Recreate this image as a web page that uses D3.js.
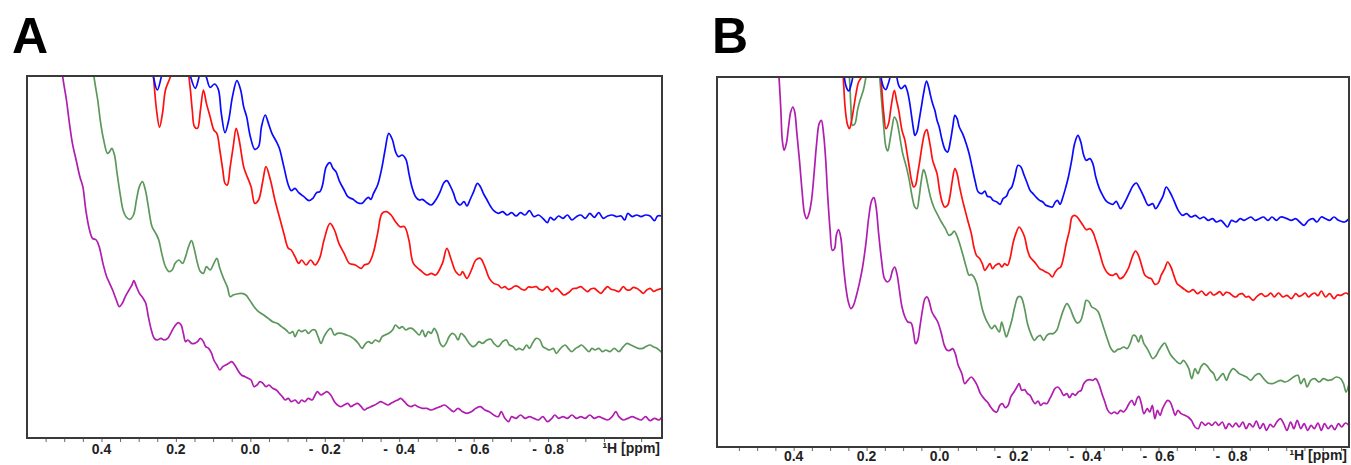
<!DOCTYPE html>
<html><head><meta charset="utf-8">
<script src="https://cdn.jsdelivr.net/npm/d3@7"></script>
<style>body{margin:0;background:#fff;} svg{display:block;}</style>
</head><body>
<svg id="chart" width="1351" height="465"></svg>
<script>
// x: chemical shift (ppm), y: relative intensity (a.u.)
const tickLabels = [0.4, 0.2, 0.0, -0.2, -0.4, -0.6, -0.8];
const axisTitle = "\u00B9H [ppm]";
const panelNames = ["A", "B"];

const aBlue = [[0.270,116.4],[0.260,108.2],[0.250,104.4],[0.240,107.9],[0.230,113.4],[0.198,119.4],[0.168,113.4],[0.160,108.2],[0.148,104.9],[0.138,108.2],[0.130,111.4],[0.118,108.2],[0.108,105.2],[0.096,106.2],[0.086,104.6],[0.078,97.4],[0.068,91.6],[0.058,95.4],[0.048,102.4],[0.036,107.2],[0.026,104.4],[0.018,99.4],[0.010,96.4],[0.000,90.4],[-0.012,86.6],[-0.022,87.4],[-0.030,93.4],[-0.040,96.9],[-0.048,94.6],[-0.058,91.4],[-0.070,88.9],[-0.078,86.9],[-0.090,81.4],[-0.102,75.9],[-0.110,74.2],[-0.120,74.9],[-0.130,73.6],[-0.144,72.4],[-0.158,71.2],[-0.168,71.9],[-0.178,73.6],[-0.187,73.9],[-0.194,75.9],[-0.204,81.4],[-0.214,82.6],[-0.222,80.9],[-0.230,79.9],[-0.240,76.9],[-0.252,74.4],[-0.262,72.4],[-0.276,71.6],[-0.288,70.6],[-0.300,70.4],[-0.310,71.6],[-0.317,72.2],[-0.324,71.6],[-0.331,73.4],[-0.342,75.9],[-0.354,81.4],[-0.362,86.4],[-0.372,91.4],[-0.382,89.4],[-0.390,85.9],[-0.398,84.4],[-0.408,84.9],[-0.418,83.6],[-0.426,79.4],[-0.434,75.4],[-0.444,72.4],[-0.454,71.4],[-0.462,71.6],[-0.474,70.6],[-0.486,69.9],[-0.498,71.4],[-0.510,73.9],[-0.520,76.6],[-0.528,77.2],[-0.538,75.4],[-0.546,73.4],[-0.554,70.9],[-0.564,69.9],[-0.574,70.9],[-0.582,69.6],[-0.590,71.4],[-0.600,73.9],[-0.610,76.4],[-0.618,75.4],[-0.626,73.4],[-0.636,71.4],[-0.646,69.4],[-0.654,68.2],[-0.666,67.4],[-0.678,67.9],[-0.690,66.9],[-0.702,67.6],[-0.714,66.6],[-0.726,67.6],[-0.738,66.9],[-0.750,68.2],[-0.762,66.4],[-0.774,66.9],[-0.786,65.9],[-0.798,64.6],[-0.806,66.2],[-0.816,65.4],[-0.828,66.6],[-0.840,65.9],[-0.852,66.9],[-0.864,65.4],[-0.876,66.4],[-0.888,66.9],[-0.900,65.9],[-0.912,67.4],[-0.924,66.2],[-0.936,67.6],[-0.948,65.9],[-0.960,66.6],[-0.972,66.9],[-0.984,66.4],[-0.996,66.6],[-1.006,65.4],[-1.014,67.4],[-1.026,66.4],[-1.038,66.9],[-1.050,66.4],[-1.062,66.9],[-1.074,66.6],[-1.086,65.2],[-1.094,66.6],[-1.106,66.6]];

const aRed = [[0.266,116.4],[0.260,108.2],[0.252,98.4],[0.244,93.2],[0.236,97.4],[0.228,104.4],[0.218,107.4],[0.210,109.9],[0.192,116.4],[0.170,111.4],[0.162,105.4],[0.156,98.4],[0.150,93.4],[0.142,92.9],[0.134,98.4],[0.126,104.4],[0.118,100.4],[0.108,96.4],[0.098,92.4],[0.090,91.4],[0.082,86.4],[0.074,80.4],[0.068,76.4],[0.062,75.9],[0.054,81.4],[0.046,87.4],[0.038,92.9],[0.030,89.4],[0.018,81.4],[0.012,79.4],[-0.002,75.4],[-0.012,70.4],[-0.022,71.4],[-0.034,77.4],[-0.042,81.4],[-0.054,77.4],[-0.066,71.4],[-0.078,66.4],[-0.090,61.4],[-0.102,56.9],[-0.110,56.4],[-0.120,54.4],[-0.130,52.4],[-0.138,53.4],[-0.150,51.9],[-0.162,53.4],[-0.174,51.9],[-0.186,53.9],[-0.198,59.4],[-0.214,64.4],[-0.226,62.4],[-0.238,58.4],[-0.252,55.4],[-0.266,52.4],[-0.282,51.9],[-0.298,50.9],[-0.306,51.9],[-0.318,52.4],[-0.330,55.4],[-0.342,61.4],[-0.354,67.4],[-0.366,67.9],[-0.378,66.9],[-0.390,64.9],[-0.402,63.4],[-0.414,63.4],[-0.426,59.4],[-0.438,52.4],[-0.456,50.4],[-0.474,48.9],[-0.486,49.4],[-0.498,48.9],[-0.516,52.4],[-0.528,56.9],[-0.540,53.4],[-0.552,49.9],[-0.564,48.9],[-0.570,49.9],[-0.582,47.9],[-0.594,50.4],[-0.606,53.4],[-0.618,53.9],[-0.630,51.4],[-0.642,47.9],[-0.654,46.4],[-0.666,45.9],[-0.675,45.0],[-0.684,45.4],[-0.693,44.6],[-0.702,44.9],[-0.711,45.6],[-0.720,45.4],[-0.729,44.6],[-0.738,44.4],[-0.747,45.3],[-0.756,45.2],[-0.768,45.4],[-0.777,44.6],[-0.786,44.4],[-0.798,45.4],[-0.810,43.9],[-0.822,44.9],[-0.832,44.0],[-0.842,42.9],[-0.858,43.9],[-0.866,44.8],[-0.876,44.9],[-0.888,45.4],[-0.897,44.6],[-0.906,43.9],[-0.915,44.7],[-0.924,44.9],[-0.933,44.1],[-0.942,43.4],[-0.951,44.5],[-0.960,45.4],[-0.969,44.6],[-0.978,44.4],[-0.990,43.9],[-1.002,45.4],[-1.011,44.5],[-1.020,44.4],[-1.029,45.2],[-1.038,44.9],[-1.047,44.2],[-1.056,43.4],[-1.065,44.4],[-1.074,44.9],[-1.083,44.0],[-1.092,44.4],[-1.106,44.9]];

const aGreen = [[0.426,116.4],[0.420,108.4],[0.410,101.4],[0.402,94.4],[0.394,89.4],[0.384,85.4],[0.378,85.9],[0.372,86.9],[0.365,84.9],[0.358,79.4],[0.350,73.4],[0.342,68.4],[0.334,66.4],[0.324,65.6],[0.314,66.9],[0.306,71.4],[0.298,75.4],[0.290,76.9],[0.282,74.4],[0.274,69.4],[0.264,63.4],[0.254,61.4],[0.246,59.4],[0.238,55.4],[0.228,51.4],[0.218,49.9],[0.210,50.4],[0.202,52.4],[0.192,53.4],[0.182,52.4],[0.174,54.4],[0.166,57.4],[0.158,59.2],[0.150,56.4],[0.142,52.4],[0.134,49.9],[0.126,49.4],[0.118,51.4],[0.108,50.4],[0.098,52.4],[0.090,53.9],[0.082,50.9],[0.072,47.9],[0.062,45.4],[0.054,42.4],[0.046,42.9],[0.036,43.2],[0.024,43.4],[0.012,42.9],[0.002,41.4],[-0.010,39.4],[-0.022,37.9],[-0.036,36.9],[-0.048,35.9],[-0.060,34.9],[-0.072,34.4],[-0.084,33.4],[-0.096,32.4],[-0.106,31.4],[-0.114,31.9],[-0.120,30.4],[-0.130,32.4],[-0.138,31.9],[-0.148,32.4],[-0.156,31.4],[-0.166,32.4],[-0.174,32.4],[-0.182,30.4],[-0.190,28.4],[-0.198,30.4],[-0.206,31.9],[-0.216,32.9],[-0.226,30.9],[-0.234,31.4],[-0.246,31.4],[-0.258,30.9],[-0.270,30.4],[-0.282,29.4],[-0.290,28.4],[-0.300,26.9],[-0.310,28.4],[-0.318,28.9],[-0.326,28.4],[-0.336,29.4],[-0.346,28.9],[-0.354,30.4],[-0.362,30.9],[-0.372,31.4],[-0.382,32.4],[-0.390,33.9],[-0.400,32.9],[-0.408,33.4],[-0.418,32.4],[-0.426,32.9],[-0.434,32.9],[-0.444,31.9],[-0.454,30.9],[-0.462,32.4],[-0.470,30.4],[-0.478,31.9],[-0.486,31.4],[-0.494,32.9],[-0.502,31.4],[-0.510,28.4],[-0.518,27.4],[-0.526,28.4],[-0.534,30.4],[-0.542,31.4],[-0.550,30.9],[-0.558,29.4],[-0.566,31.4],[-0.576,30.4],[-0.582,29.4],[-0.588,28.4],[-0.598,27.4],[-0.606,27.9],[-0.614,28.9],[-0.624,28.4],[-0.636,29.4],[-0.646,29.6],[-0.654,28.4],[-0.666,27.4],[-0.678,28.9],[-0.688,29.4],[-0.696,27.9],[-0.706,27.4],[-0.714,26.4],[-0.722,26.9],[-0.732,26.4],[-0.742,27.9],[-0.750,26.9],[-0.758,28.4],[-0.768,29.9],[-0.778,29.4],[-0.786,27.4],[-0.794,26.9],[-0.804,26.4],[-0.814,26.9],[-0.822,25.4],[-0.830,26.4],[-0.838,27.4],[-0.846,27.9],[-0.854,26.9],[-0.864,25.9],[-0.874,26.9],[-0.882,27.4],[-0.890,27.9],[-0.900,26.9],[-0.910,25.9],[-0.918,26.9],[-0.926,26.4],[-0.936,26.9],[-0.946,25.9],[-0.955,26.4],[-0.966,25.9],[-0.978,26.9],[-0.990,25.9],[-1.002,27.4],[-1.012,28.4],[-1.022,27.9],[-1.032,27.4],[-1.042,26.9],[-1.054,26.9],[-1.062,27.4],[-1.074,27.9],[-1.082,27.4],[-1.092,26.9],[-1.106,25.6]];

const aMagenta = [[0.510,116.4],[0.504,108.4],[0.494,101.4],[0.486,94.4],[0.478,88.4],[0.468,83.4],[0.458,78.4],[0.450,75.4],[0.442,68.4],[0.432,62.4],[0.424,59.9],[0.414,59.4],[0.406,57.4],[0.396,52.4],[0.386,48.4],[0.378,46.4],[0.370,44.4],[0.360,41.4],[0.352,39.4],[0.344,40.4],[0.336,42.4],[0.326,44.4],[0.318,45.9],[0.313,47.2],[0.306,45.4],[0.298,43.4],[0.288,41.9],[0.281,40.4],[0.274,36.4],[0.266,32.4],[0.258,29.9],[0.250,29.4],[0.240,29.9],[0.232,29.4],[0.222,29.9],[0.214,31.4],[0.204,33.4],[0.194,34.6],[0.186,33.9],[0.180,31.4],[0.174,28.9],[0.168,29.4],[0.158,28.4],[0.150,28.4],[0.142,28.9],[0.134,29.9],[0.126,28.9],[0.120,27.4],[0.112,26.9],[0.104,25.4],[0.098,23.4],[0.090,21.9],[0.082,20.4],[0.074,21.4],[0.066,21.9],[0.058,22.4],[0.050,22.9],[0.042,21.9],[0.034,20.4],[0.024,18.9],[0.014,18.4],[0.006,17.9],[-0.002,17.4],[-0.010,15.4],[-0.018,15.9],[-0.026,16.9],[-0.034,16.4],[-0.042,15.4],[-0.050,15.9],[-0.060,14.9],[-0.070,14.4],[-0.078,13.4],[-0.086,12.4],[-0.094,11.4],[-0.102,11.9],[-0.110,10.9],[-0.120,11.4],[-0.130,10.4],[-0.138,11.4],[-0.146,10.9],[-0.156,11.9],[-0.166,11.4],[-0.174,12.9],[-0.180,13.9],[-0.190,12.9],[-0.198,13.4],[-0.206,13.9],[-0.216,12.9],[-0.226,10.9],[-0.234,9.9],[-0.242,9.4],[-0.252,9.9],[-0.262,10.4],[-0.270,9.4],[-0.278,9.9],[-0.288,10.4],[-0.298,9.4],[-0.306,8.4],[-0.314,8.9],[-0.324,9.4],[-0.334,9.9],[-0.342,10.4],[-0.350,10.9],[-0.360,10.4],[-0.370,9.9],[-0.378,10.4],[-0.386,10.9],[-0.396,11.4],[-0.404,11.9],[-0.414,10.9],[-0.422,9.9],[-0.432,9.4],[-0.442,9.9],[-0.450,9.4],[-0.462,8.9],[-0.474,8.9],[-0.486,8.4],[-0.498,8.9],[-0.510,9.4],[-0.522,9.9],[-0.534,8.9],[-0.546,7.9],[-0.558,8.9],[-0.570,7.9],[-0.582,7.4],[-0.594,7.9],[-0.606,8.9],[-0.618,9.4],[-0.630,8.4],[-0.642,7.9],[-0.654,6.9],[-0.666,6.4],[-0.674,7.9],[-0.684,5.9],[-0.694,4.9],[-0.702,6.4],[-0.714,5.9],[-0.726,6.9],[-0.738,5.9],[-0.750,6.4],[-0.762,5.9],[-0.774,5.4],[-0.786,6.4],[-0.798,4.9],[-0.810,5.9],[-0.818,6.9],[-0.828,5.9],[-0.840,6.4],[-0.852,5.9],[-0.864,6.9],[-0.876,5.9],[-0.888,6.4],[-0.900,5.9],[-0.912,6.9],[-0.924,5.9],[-0.936,6.4],[-0.948,5.9],[-0.960,5.4],[-0.972,6.4],[-0.982,7.9],[-0.990,6.4],[-1.002,5.4],[-1.014,5.9],[-1.026,6.4],[-1.038,5.9],[-1.050,5.4],[-1.062,6.4],[-1.074,5.2],[-1.086,5.9],[-1.098,5.4],[-1.106,6.4]];

const bBlue = [[0.267,119.0],[0.261,110.8],[0.255,107.8],[0.249,106.8],[0.243,108.5],[0.238,110.8],[0.218,119.0],[0.165,114.0],[0.159,110.0],[0.153,107.8],[0.147,107.2],[0.142,108.5],[0.136,110.8],[0.126,116.0],[0.117,110.8],[0.112,108.5],[0.106,107.5],[0.101,107.8],[0.095,108.5],[0.089,107.0],[0.083,104.0],[0.077,99.5],[0.071,95.0],[0.068,93.5],[0.062,94.5],[0.056,98.0],[0.050,102.0],[0.044,106.0],[0.036,109.8],[0.030,108.0],[0.025,105.5],[0.019,103.0],[0.013,101.0],[0.007,98.0],[0.001,96.0],[-0.007,92.0],[-0.016,89.0],[-0.022,88.5],[-0.030,92.0],[-0.036,96.0],[-0.042,99.5],[-0.048,98.5],[-0.054,96.0],[-0.063,94.0],[-0.073,91.0],[-0.081,88.0],[-0.089,84.0],[-0.098,79.5],[-0.106,76.5],[-0.116,76.0],[-0.124,76.8],[-0.131,75.2],[-0.139,75.0],[-0.147,74.0],[-0.157,73.5],[-0.166,72.8],[-0.174,74.5],[-0.183,75.2],[-0.190,77.0],[-0.198,78.0],[-0.206,81.0],[-0.215,84.5],[-0.223,84.0],[-0.230,82.0],[-0.239,79.5],[-0.248,77.0],[-0.256,76.0],[-0.264,75.0],[-0.274,74.0],[-0.283,73.5],[-0.291,72.5],[-0.300,72.2],[-0.309,72.0],[-0.317,73.5],[-0.323,74.0],[-0.330,72.8],[-0.338,75.0],[-0.346,78.0],[-0.353,81.0],[-0.362,86.0],[-0.370,91.0],[-0.379,93.5],[-0.387,91.5],[-0.395,87.5],[-0.402,86.0],[-0.412,86.5],[-0.420,85.0],[-0.428,81.0],[-0.438,77.5],[-0.447,75.5],[-0.455,74.0],[-0.464,73.2],[-0.475,72.8],[-0.484,73.7],[-0.496,71.5],[-0.508,73.5],[-0.519,76.0],[-0.531,78.5],[-0.539,79.2],[-0.549,77.5],[-0.560,75.0],[-0.572,72.5],[-0.584,73.0],[-0.592,71.5],[-0.604,73.5],[-0.613,75.5],[-0.621,78.0],[-0.631,76.5],[-0.642,74.0],[-0.654,71.0],[-0.666,69.5],[-0.677,70.0],[-0.689,69.0],[-0.701,69.5],[-0.713,68.5],[-0.724,69.0],[-0.736,68.0],[-0.748,68.5],[-0.759,67.5],[-0.771,68.0],[-0.780,67.0],[-0.789,66.0],[-0.800,68.0],[-0.812,67.5],[-0.824,68.5],[-0.835,68.0],[-0.853,69.0],[-0.865,68.0],[-0.876,68.5],[-0.888,69.0],[-0.900,68.0],[-0.911,69.0],[-0.923,68.0],[-0.935,69.0],[-0.952,68.5],[-0.964,68.0],[-0.976,68.5],[-0.987,67.5],[-0.999,66.5],[-1.011,68.0],[-1.023,68.5],[-1.034,67.5],[-1.046,69.0],[-1.058,68.5],[-1.069,68.0],[-1.081,69.0],[-1.093,68.0],[-1.110,67.5],[-1.122,68.5]];

const bRed = [[0.270,119.0],[0.264,110.8],[0.259,102.0],[0.253,97.0],[0.247,95.5],[0.241,98.0],[0.235,102.0],[0.229,106.0],[0.222,109.5],[0.215,110.8],[0.194,119.0],[0.165,114.0],[0.159,108.0],[0.153,100.0],[0.147,95.5],[0.140,97.0],[0.133,102.0],[0.124,107.0],[0.118,104.0],[0.112,101.0],[0.103,95.0],[0.095,92.0],[0.089,88.0],[0.083,84.0],[0.077,80.0],[0.071,78.0],[0.066,78.5],[0.060,82.0],[0.054,86.0],[0.047,91.0],[0.040,94.5],[0.035,95.2],[0.030,93.0],[0.025,90.0],[0.019,86.0],[0.013,84.0],[0.007,82.0],[0.000,77.0],[-0.007,73.5],[-0.014,72.0],[-0.022,72.5],[-0.028,75.0],[-0.035,80.0],[-0.042,83.5],[-0.048,82.0],[-0.054,78.5],[-0.063,74.0],[-0.070,71.0],[-0.077,68.0],[-0.087,64.0],[-0.094,60.0],[-0.101,57.5],[-0.110,56.5],[-0.117,55.0],[-0.124,53.0],[-0.131,54.0],[-0.138,55.0],[-0.145,53.5],[-0.153,54.5],[-0.163,55.0],[-0.171,54.0],[-0.178,55.0],[-0.186,54.5],[-0.194,57.0],[-0.201,61.0],[-0.209,64.0],[-0.218,66.0],[-0.225,65.0],[-0.233,63.0],[-0.241,59.0],[-0.248,57.0],[-0.256,56.0],[-0.264,55.0],[-0.274,53.5],[-0.283,53.0],[-0.291,52.5],[-0.300,52.0],[-0.309,51.0],[-0.317,52.5],[-0.325,53.5],[-0.332,54.0],[-0.340,57.0],[-0.347,61.0],[-0.356,65.0],[-0.363,69.0],[-0.370,69.5],[-0.377,69.0],[-0.385,67.8],[-0.393,66.5],[-0.402,65.2],[-0.412,65.5],[-0.420,64.5],[-0.428,62.0],[-0.438,58.5],[-0.447,55.0],[-0.455,53.0],[-0.464,51.8],[-0.475,51.5],[-0.484,52.0],[-0.494,50.5],[-0.503,51.0],[-0.512,52.5],[-0.519,54.0],[-0.528,57.0],[-0.537,58.8],[-0.545,57.5],[-0.555,54.0],[-0.563,51.5],[-0.572,50.8],[-0.580,50.5],[-0.590,48.8],[-0.599,49.2],[-0.607,51.5],[-0.617,53.5],[-0.625,55.5],[-0.634,54.0],[-0.642,51.5],[-0.651,49.0],[-0.660,48.2],[-0.672,47.2],[-0.683,46.5],[-0.695,47.2],[-0.707,46.0],[-0.718,46.8],[-0.730,45.5],[-0.742,46.5],[-0.750,45.6],[-0.759,46.0],[-0.768,46.6],[-0.777,45.5],[-0.785,46.4],[-0.794,46.2],[-0.803,45.4],[-0.812,45.0],[-0.821,45.8],[-0.830,46.0],[-0.839,45.0],[-0.847,45.2],[-0.859,44.0],[-0.870,45.2],[-0.882,46.0],[-0.891,45.2],[-0.900,45.5],[-0.908,46.2],[-0.917,45.0],[-0.929,46.2],[-0.941,45.0],[-0.952,45.5],[-0.964,44.5],[-0.976,46.0],[-0.985,45.2],[-0.993,45.5],[-1.002,46.2],[-1.011,45.0],[-1.020,45.8],[-1.028,46.2],[-1.037,45.4],[-1.046,46.8],[-1.058,45.0],[-1.069,46.0],[-1.081,44.5],[-1.090,45.6],[-1.099,45.5],[-1.114,46.2],[-1.122,45.5]];

const bGreen = [[0.253,119.0],[0.247,110.8],[0.243,102.0],[0.239,96.5],[0.232,97.0],[0.225,101.0],[0.218,104.0],[0.209,107.0],[0.202,110.8],[0.188,119.0],[0.168,116.0],[0.164,110.8],[0.159,104.0],[0.153,96.0],[0.147,90.0],[0.142,88.8],[0.136,92.0],[0.130,96.0],[0.124,99.0],[0.118,98.0],[0.112,95.0],[0.106,91.0],[0.101,88.0],[0.091,84.0],[0.083,80.0],[0.075,75.0],[0.068,72.0],[0.062,71.5],[0.056,75.0],[0.050,80.0],[0.044,83.2],[0.039,82.0],[0.033,79.0],[0.025,75.0],[0.016,72.0],[0.007,70.0],[-0.005,67.5],[-0.016,65.5],[-0.026,63.5],[-0.034,64.0],[-0.040,64.8],[-0.047,63.5],[-0.055,61.0],[-0.063,58.0],[-0.073,54.0],[-0.081,51.5],[-0.087,51.8],[-0.094,51.0],[-0.102,49.0],[-0.110,45.0],[-0.118,41.0],[-0.126,38.5],[-0.133,37.0],[-0.143,35.5],[-0.151,36.5],[-0.157,35.5],[-0.164,34.5],[-0.170,37.5],[-0.177,35.0],[-0.183,33.0],[-0.190,35.0],[-0.198,38.0],[-0.206,42.0],[-0.215,45.0],[-0.223,45.0],[-0.232,42.0],[-0.241,37.0],[-0.250,34.0],[-0.260,32.0],[-0.268,33.0],[-0.276,33.5],[-0.285,32.0],[-0.294,33.5],[-0.302,34.0],[-0.311,34.0],[-0.321,35.0],[-0.330,38.0],[-0.339,41.0],[-0.349,43.0],[-0.358,41.5],[-0.367,39.0],[-0.377,37.2],[-0.386,37.8],[-0.395,41.0],[-0.402,44.0],[-0.410,43.5],[-0.417,42.0],[-0.426,41.5],[-0.435,40.5],[-0.443,38.0],[-0.452,35.0],[-0.461,32.0],[-0.470,29.5],[-0.479,28.5],[-0.487,29.2],[-0.496,29.5],[-0.505,30.0],[-0.514,29.5],[-0.522,31.0],[-0.531,33.5],[-0.538,33.2],[-0.545,31.5],[-0.552,33.5],[-0.560,31.0],[-0.569,29.5],[-0.576,28.0],[-0.584,26.5],[-0.592,27.2],[-0.601,29.0],[-0.610,30.5],[-0.617,31.2],[-0.625,29.5],[-0.634,27.5],[-0.642,26.5],[-0.651,25.5],[-0.660,25.0],[-0.668,26.0],[-0.676,25.0],[-0.683,23.5],[-0.691,20.5],[-0.700,23.5],[-0.708,22.0],[-0.716,24.0],[-0.724,25.0],[-0.732,24.5],[-0.742,23.0],[-0.751,22.0],[-0.759,20.0],[-0.768,21.0],[-0.777,22.0],[-0.786,20.0],[-0.794,22.0],[-0.804,23.5],[-0.812,23.0],[-0.821,22.0],[-0.831,21.5],[-0.841,21.0],[-0.853,20.0],[-0.865,21.5],[-0.876,22.0],[-0.888,20.5],[-0.900,19.2],[-0.911,19.0],[-0.923,19.5],[-0.935,20.0],[-0.947,19.5],[-0.958,20.0],[-0.970,21.0],[-0.982,21.5],[-0.990,19.0],[-0.999,20.5],[-1.007,18.0],[-1.017,20.0],[-1.028,20.5],[-1.040,19.5],[-1.052,20.5],[-1.064,20.0],[-1.075,20.2],[-1.087,21.0],[-1.099,20.5],[-1.107,19.0],[-1.114,16.5],[-1.122,19.0]];

const bMagenta = [[0.446,119.0],[0.440,110.8],[0.435,101.0],[0.431,92.0],[0.426,89.0],[0.420,91.0],[0.414,96.0],[0.408,100.5],[0.402,102.0],[0.397,100.5],[0.391,94.0],[0.384,86.0],[0.377,77.0],[0.370,70.0],[0.364,68.5],[0.358,70.0],[0.351,74.0],[0.344,82.0],[0.337,91.0],[0.330,97.0],[0.324,98.0],[0.318,94.0],[0.312,86.0],[0.307,76.0],[0.300,65.0],[0.294,59.0],[0.288,59.5],[0.283,63.5],[0.277,65.2],[0.271,63.0],[0.264,55.0],[0.257,48.0],[0.250,43.5],[0.243,41.5],[0.236,42.5],[0.229,45.0],[0.220,49.0],[0.211,54.0],[0.202,61.0],[0.194,69.0],[0.186,74.0],[0.180,74.8],[0.174,72.0],[0.167,64.0],[0.159,56.0],[0.151,50.5],[0.143,49.5],[0.136,50.2],[0.129,53.0],[0.123,54.0],[0.117,52.0],[0.110,47.0],[0.103,42.0],[0.095,39.0],[0.087,37.5],[0.078,37.2],[0.071,34.0],[0.066,31.0],[0.060,32.0],[0.054,36.0],[0.047,41.0],[0.040,44.5],[0.034,45.0],[0.028,43.5],[0.021,40.5],[0.013,39.0],[0.005,37.5],[-0.005,34.0],[-0.013,30.5],[-0.021,29.0],[-0.028,29.0],[-0.036,29.5],[-0.043,28.0],[-0.051,24.5],[-0.061,22.0],[-0.069,19.0],[-0.077,20.0],[-0.087,21.0],[-0.095,20.0],[-0.103,18.5],[-0.112,16.0],[-0.122,14.5],[-0.131,13.5],[-0.140,12.0],[-0.149,10.8],[-0.157,10.5],[-0.165,12.5],[-0.172,13.0],[-0.180,11.8],[-0.188,12.5],[-0.195,15.0],[-0.204,16.5],[-0.212,18.0],[-0.218,19.0],[-0.225,17.0],[-0.233,17.2],[-0.241,16.0],[-0.248,15.5],[-0.255,14.0],[-0.262,13.0],[-0.270,13.8],[-0.277,12.5],[-0.285,13.2],[-0.294,13.0],[-0.302,14.5],[-0.309,16.0],[-0.316,17.5],[-0.324,18.0],[-0.332,17.0],[-0.340,15.5],[-0.349,16.0],[-0.356,14.8],[-0.364,16.0],[-0.372,15.5],[-0.380,16.5],[-0.388,17.0],[-0.395,19.0],[-0.404,20.0],[-0.412,20.2],[-0.420,20.0],[-0.428,20.5],[-0.436,19.0],[-0.445,16.0],[-0.453,13.5],[-0.461,11.0],[-0.470,10.0],[-0.479,10.5],[-0.487,10.0],[-0.496,11.0],[-0.504,10.5],[-0.512,11.5],[-0.519,13.0],[-0.527,14.0],[-0.534,12.5],[-0.541,14.5],[-0.546,15.2],[-0.553,13.0],[-0.560,10.0],[-0.569,11.5],[-0.576,10.5],[-0.583,12.5],[-0.590,8.5],[-0.597,11.0],[-0.604,9.5],[-0.611,11.5],[-0.618,13.0],[-0.625,14.0],[-0.632,13.5],[-0.639,11.5],[-0.646,9.5],[-0.653,11.0],[-0.662,10.0],[-0.672,9.5],[-0.681,9.0],[-0.690,8.0],[-0.700,6.0],[-0.709,5.5],[-0.718,7.5],[-0.728,6.5],[-0.737,7.2],[-0.746,6.5],[-0.756,7.5],[-0.765,6.5],[-0.775,7.5],[-0.784,5.5],[-0.793,7.0],[-0.803,6.0],[-0.812,7.2],[-0.821,6.0],[-0.831,7.5],[-0.840,5.5],[-0.849,7.0],[-0.859,6.0],[-0.868,7.8],[-0.878,5.5],[-0.887,7.0],[-0.896,5.0],[-0.906,6.8],[-0.915,6.0],[-0.924,7.5],[-0.934,8.5],[-0.943,7.0],[-0.952,5.0],[-0.962,7.5],[-0.971,5.5],[-0.980,8.0],[-0.990,5.5],[-0.999,7.0],[-1.009,5.0],[-1.018,6.5],[-1.027,5.5],[-1.037,7.2],[-1.046,5.0],[-1.055,7.0],[-1.065,5.5],[-1.074,6.5],[-1.083,5.2],[-1.093,7.0],[-1.102,6.0],[-1.112,7.2],[-1.122,6.5]];

const traceColors = ["#0a0aff", "#ff1010", "#5c985c", "#b01db0"];

const panels = [
  { name: panelNames[0], left: 27, right: 662, top: 76, bottom: 438, xDomain: [0.600, -1.106], yDomain: [0, 108.6],
    labelY: 454, nameX: 12, series: [aMagenta, aGreen, aRed, aBlue] },
  { name: panelNames[1], left: 717, right: 1349, top: 77, bottom: 447, xDomain: [0.610, -1.122], yDomain: [0, 111],
    labelY: 461, nameX: 712, series: [bMagenta, bGreen, bRed, bBlue] }
];
const seriesColorOrder = [traceColors[3], traceColors[2], traceColors[1], traceColors[0]];

const svg = d3.select("#chart");
const defs = svg.append("defs");
const fontFam = "Liberation Sans, Arial, sans-serif";

panels.forEach((p, i) => {
  const x = d3.scaleLinear().domain(p.xDomain).range([p.left, p.right]);
  const y = d3.scaleLinear().domain(p.yDomain).range([p.bottom, p.top]);
  const g = svg.append("g");

  defs.append("clipPath").attr("id", "clip" + i)
    .append("rect").attr("x", p.left).attr("y", p.top)
    .attr("width", p.right - p.left).attr("height", p.bottom - p.top);

  const line = d3.line().x(d => x(d[0])).y(d => y(d[1])).curve(d3.curveCatmullRom.alpha(0.5));
  const lg = g.append("g").attr("clip-path", `url(#clip${i})`);
  p.series.forEach((s, k) => {
    lg.append("path").attr("d", line(s)).attr("fill", "none")
      .attr("stroke", seriesColorOrder[k]).attr("stroke-width", 1.7)
      .attr("stroke-linejoin", "round").attr("stroke-linecap", "round");
  });

  // frame
  g.append("rect").attr("x", p.left).attr("y", p.top)
    .attr("width", p.right - p.left).attr("height", p.bottom - p.top)
    .attr("fill", "none").attr("stroke", "#3a3a3a").attr("stroke-width", 2);

  // minor ticks every 0.05 ppm
  const lo = Math.min(...p.xDomain), hi = Math.max(...p.xDomain);
  const minor = d3.range(-24, 14).map(k => +(k * 0.05).toFixed(2)).filter(v => v > lo + 0.01 && v < hi - 0.01);
  const axis = d3.axisBottom(x).tickValues(minor).tickSize(3).tickFormat("");
  const ag = g.append("g").attr("transform", `translate(0,${p.bottom + 1})`).call(axis);
  ag.select(".domain").remove();
  ag.selectAll("line").attr("stroke", "#666").attr("stroke-width", 1);

  // tick labels
  g.selectAll(null).data(tickLabels).join("text")
    .attr("x", d => x(d)).attr("y", p.labelY)
    .attr("text-anchor", "middle")
    .style("white-space", "pre")
    .attr("font-family", fontFam)
    .attr("font-weight", "bold").attr("font-size", 14).attr("fill", "#222")
    .text(d => d < 0 ? "-  " + Math.abs(d).toFixed(1) : d.toFixed(1));

  // axis title
  g.append("text").attr("x", p.right - 2).attr("y", p.labelY - 1).attr("text-anchor", "end")
    .attr("font-family", fontFam)
    .attr("font-weight", "bold").attr("font-size", 14).attr("fill", "#222")
    .text(axisTitle);

  // panel letter
  svg.append("text").attr("x", p.nameX).attr("y", 53)
    .attr("font-family", fontFam)
    .attr("font-weight", "bold").attr("font-size", 50).attr("fill", "#000")
    .text(p.name);
});
</script>
</body></html>
